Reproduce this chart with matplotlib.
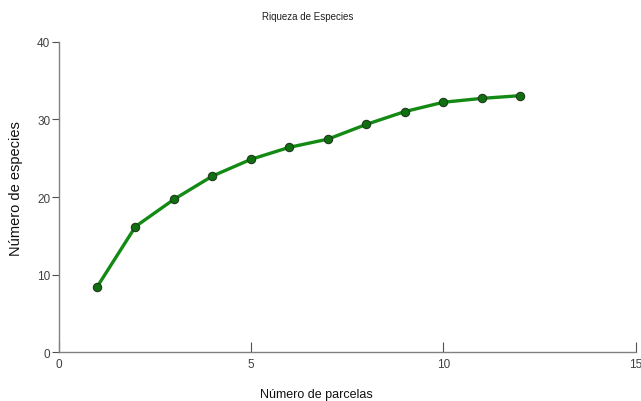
import matplotlib
matplotlib.use('Agg')
import matplotlib.pyplot as plt

# Datos: curva de acumulación de especies
parcelas = [1, 2, 3, 4, 5, 6, 7, 8, 9, 10, 11, 12]
especies = [8.4, 16.2, 19.7, 22.7, 24.85, 26.4, 27.45, 29.35, 31.0, 32.2, 32.7, 33.05]

xticks = [0, 5, 10, 15]
yticks = [0, 10, 20, 30, 40]

plt.rcParams['font.family'] = ['Liberation Sans', 'DejaVu Sans']

fig = plt.figure(figsize=(6.41, 4.02), dpi=100)
ax = fig.add_axes([0.0913, 0.1211, 0.9004, 0.7727])

ax.plot(parcelas, especies, '-', color='#138a13', lw=2.4,
        marker='o', ms=6, mfc='#0f700f', mec='#1e3a1e', mew=0.8)

ax.set_xlim(0, 15)
ax.set_ylim(0, 40)
ax.set_xticks(xticks)
ax.set_yticks(yticks)

for s in ['top', 'right']:
    ax.spines[s].set_visible(False)
for s in ['left', 'bottom']:
    ax.spines[s].set_color('#808080')
    ax.spines[s].set_linewidth(1.0)

ax.tick_params(axis='y', direction='out', length=5, color='#505050',
               labelsize=8.5, labelcolor='#404040', pad=1)
ax.tick_params(axis='x', direction='in', length=7, color='#505050',
               labelsize=8.5, labelcolor='#404040', pad=4)

fig.text(0.48, 0.957, 'Riqueza de Especies', ha='center', va='center',
         fontsize=7, color='#202020')
fig.text(0.493, 0.018, 'Número de parcelas', ha='center', va='center',
         fontsize=9, color='#101010')
fig.text(0.025, 0.53, 'Número de especies', ha='center', va='center',
         rotation=90, fontsize=10.5, color='#101010')

fig.savefig('out.png', dpi=100)
